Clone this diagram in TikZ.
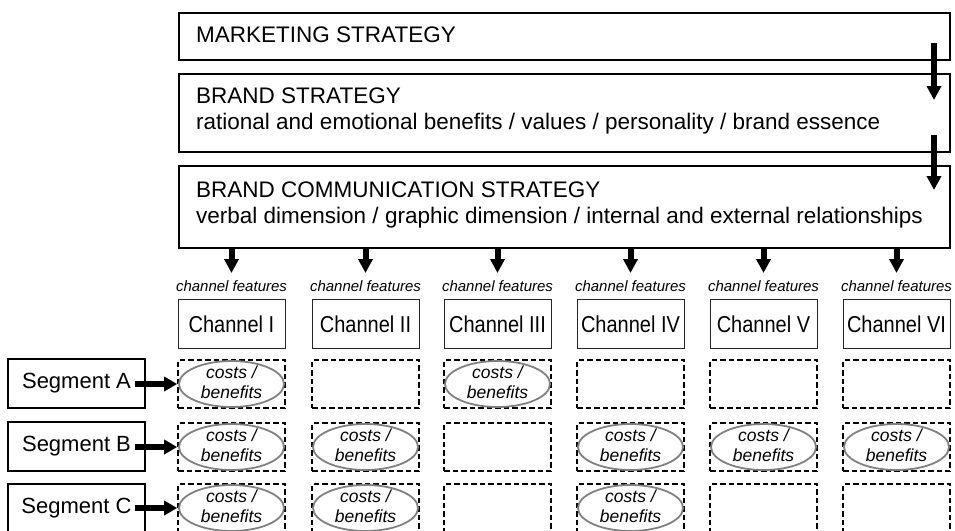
\documentclass[tikz,border=0pt]{standalone}
\usepackage{fontspec}
\setmainfont{Liberation Sans}
\newfontfamily\chfont[FakeStretch=0.87]{Liberation Sans}
\usetikzlibrary{arrows.meta,shapes.geometric}
\begin{document}
\begin{tikzpicture}[x=1pt,y=-1pt,
  bigbox/.style={draw=black,line width=1.6pt,inner sep=0pt,anchor=north west},
  chbox/.style={draw=black!85,line width=0.9pt,inner sep=0pt,minimum width=107pt,minimum height=49pt,
     font=\chfont\fontsize{23}{26}\selectfont},
  segbox/.style={draw=black,line width=1.6pt,inner sep=0pt,minimum width=137pt,minimum height=49pt,
     font=\fontsize{22}{25}\selectfont},
  cell/.style={draw=black,line width=1.6pt,dash pattern=on 5.5pt off 3pt,inner sep=0pt,
     minimum width=107pt,minimum height=48pt},
  cb/.style={ellipse,draw=black!50,line width=1.8pt,inner sep=0pt,minimum width=105pt,minimum height=46pt},
  cbtext/.style={font=\fontsize{17.5}{19.5}\selectfont\itshape,align=center,inner sep=0pt},
  feat/.style={font=\fontsize{15}{17}\selectfont\itshape,inner sep=0pt,anchor=base},
  head/.style={font=\fontsize{22.5}{26}\selectfont,inner sep=0pt,anchor=base west},
  bigarrow/.style={line width=6pt,-{Triangle[length=14pt,width=14pt]}},
  segarrow/.style={line width=6pt,-{Triangle[length=13pt,width=14pt]}}
]
\clip (0,0) rectangle (955,530);
% top boxes
\node[bigbox,minimum width=771pt,minimum height=47pt] (ms) at (178,12) {};
\node[bigbox,minimum width=771pt,minimum height=78pt] (bs) at (178,73) {};
\node[bigbox,minimum width=771pt,minimum height=82pt] (bcs) at (178,165) {};
\node[head] (msT) at (196,42) {MARKETING STRATEGY};
\node[head] (bsT1) at (196,103) {BRAND STRATEGY};
\node[head] (bsT2) at (196,129) {rational and emotional benefits / values / personality / brand essence};
\node[head] (bcsT1) at (196,197) {BRAND COMMUNICATION STRATEGY};
\node[head] (bcsT2) at (196,223) {verbal dimension / graphic dimension / internal and external relationships};
% right arrows
\coordinate (r1s) at (934,43);
\coordinate (r1e) at (934,100);
\coordinate (r2s) at (934,135);
\coordinate (r2e) at (934,190);
\draw[bigarrow] (r1s) -- (r1e);
\draw[bigarrow] (r2s) -- (r2e);
% channels
\foreach \i/\x/\lab in {1/231.5/Channel I,2/365.5/Channel II,3/497.5/Channel III,4/630.5/Channel IV,5/763.5/Channel V,6/896.5/Channel VI}{
  \node[chbox] (ch\i) at (\x,324) {\lab};
  \node[feat] (f\i) at (\x,291) {channel features};
  \coordinate (t\i) at (\x,273);
  \draw[bigarrow] (bcs.south -| ch\i) -- (t\i);
  \node[cell] (a\i) at (\x,384) {};
  \node[cell] (b\i) at (\x,447) {};
  \node[cell] (c\i) at (\x,508) {};
}
% segments
\node[segbox] (sA) at (76.5,383.5) {Segment A};
\node[segbox] (sB) at (76.5,446.5) {Segment B};
\node[segbox] (sC) at (76.5,508.5) {Segment C};
\coordinate (sAs) at (135,384);
\coordinate (sBs) at (135,447);
\coordinate (sCs) at (135,508);
\draw[segarrow] (sAs) -- (a1.west);
\draw[segarrow] (sBs) -- (b1.west);
\draw[segarrow] (sCs) -- (c1.west);
% costs / benefits ellipses
\foreach \c in {a1,a3,b1,b2,b4,b5,b6,c1,c2,c4}{
  \node[cb] (e\c) at (\c) {};
  \node[cbtext] (x\c) at ([yshift=2pt]\c) {costs /\\benefits};
}
\end{tikzpicture}
\end{document}
